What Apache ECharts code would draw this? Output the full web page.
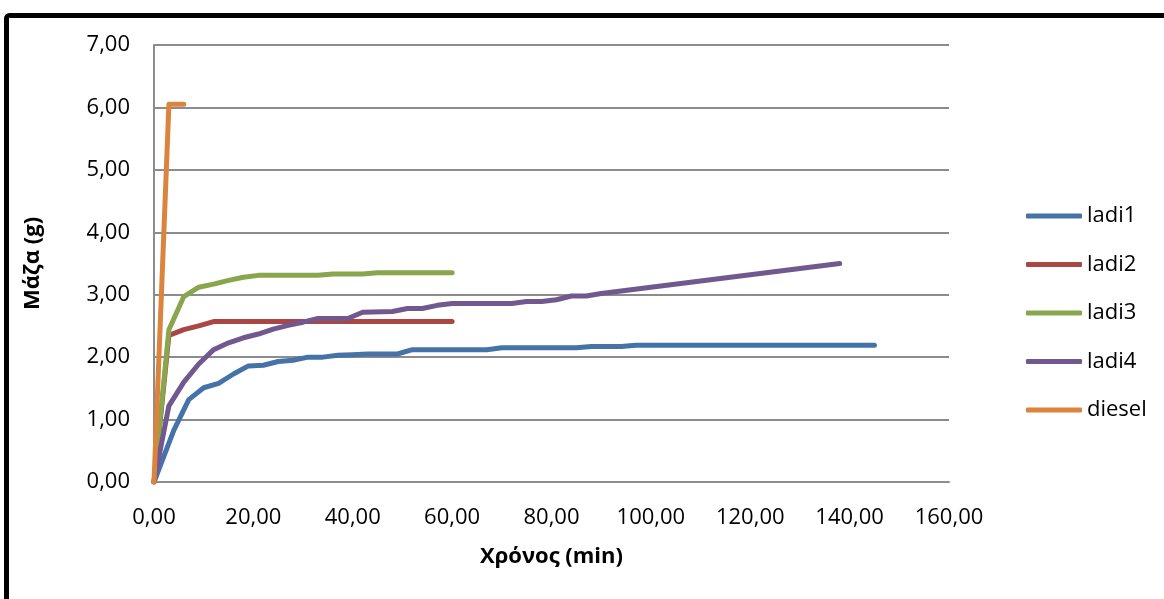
<!DOCTYPE html>
<html>
<head>
<meta charset="utf-8">
<script src="https://cdn.jsdelivr.net/npm/echarts@6/dist/echarts.min.js"></script>
<style>
  html, body { margin: 0; padding: 0; background: #fff; }
  #chart { width: 1164px; height: 599px; }
</style>
</head>
<body>
<div id="chart"></div>
<script>
// Mass gained over time (min) for each sample
const seriesNames = ['ladi1', 'ladi2', 'ladi3', 'ladi4', 'diesel'];

const ladi1Time = [0, 4, 7, 10, 13, 16, 19, 22, 25, 28, 31, 34, 37, 40, 43, 49, 52, 67, 70, 85, 88, 94, 97, 145];
const ladi1Mass = [0, 0.83, 1.32, 1.51, 1.58, 1.73, 1.86, 1.87, 1.93, 1.95, 2.00, 2.00, 2.03, 2.04, 2.05, 2.05, 2.12, 2.12, 2.15, 2.15, 2.17, 2.17, 2.19, 2.19];

const ladi2Time = [0, 3, 6, 9, 12, 60];
const ladi2Mass = [0, 2.35, 2.44, 2.50, 2.57, 2.57];

const ladi3Time = [0, 3, 6, 9, 12, 15, 18, 21, 33, 36, 42, 45, 60];
const ladi3Mass = [0, 2.44, 2.97, 3.12, 3.17, 3.23, 3.28, 3.31, 3.31, 3.33, 3.33, 3.35, 3.35];

const ladi4Time = [0, 3, 6, 9, 12, 15, 18, 21, 24, 27, 30, 33, 39, 42, 48, 51, 54, 57, 60, 72, 75, 78, 81, 84, 87, 90, 138];
const ladi4Mass = [0, 1.22, 1.60, 1.89, 2.12, 2.23, 2.31, 2.37, 2.45, 2.51, 2.56, 2.62, 2.62, 2.72, 2.73, 2.78, 2.78, 2.83, 2.86, 2.86, 2.89, 2.89, 2.92, 2.98, 2.98, 3.02, 3.50];

const dieselTime = [0, 3, 6];
const dieselMass = [0, 6.05, 6.05];

const xTicks = { min: 0, max: 160, step: 20 };
const yTicks = { min: 0, max: 7, step: 1 };

const colors = ['#4572A7', '#AA4643', '#89A54E', '#71588F', '#DB843D'];

const zip = (t, m) => t.map((v, i) => [v, m[i]]);
const seriesData = [
  zip(ladi1Time, ladi1Mass),
  zip(ladi2Time, ladi2Mass),
  zip(ladi3Time, ladi3Mass),
  zip(ladi4Time, ladi4Mass),
  zip(dieselTime, dieselMass)
];

const fmt = v => v.toFixed(2).replace('.', ',');
const FONT = '"Open Sans", "Noto Sans", sans-serif';
const axisGray = '#8c8c8c';

const chart = echarts.init(document.getElementById('chart'), null, { renderer: 'canvas' });
chart.setOption({
  animation: false,
  color: colors,
  textStyle: { fontFamily: FONT },
  graphic: [{
    type: 'rect',
    shape: { x: 6.5, y: 15.5, width: 1300, height: 700, r: 3 },
    style: { fill: 'none', stroke: '#000', lineWidth: 5 },
    silent: true
  }],
  grid: { left: 154, top: 45, width: 795, height: 437, containLabel: false },
  legend: {
    orient: 'vertical',
    left: 1021,
    top: 199,
    icon: 'roundRect',
    itemWidth: 56,
    itemHeight: 5,
    itemGap: 24.5,
    textStyle: { fontFamily: FONT, fontSize: 22, color: '#000', lineHeight: 24 },
    data: seriesNames
  },
  xAxis: {
    type: 'value',
    min: xTicks.min, max: xTicks.max, interval: xTicks.step,
    name: 'Χρόνος (min)',
    nameLocation: 'middle',
    nameGap: 64,
    nameTextStyle: { fontFamily: FONT, fontSize: 22, fontWeight: 'bold', color: '#000' },
    axisLine: { show: true, lineStyle: { color: axisGray, width: 2 } },
    axisTick: { show: false },
    splitLine: { show: false },
    axisLabel: { formatter: fmt, fontFamily: FONT, fontSize: 22, color: '#000', margin: 25 }
  },
  yAxis: {
    type: 'value',
    min: yTicks.min, max: yTicks.max, interval: yTicks.step,
    name: 'Μάζα (g)',
    nameLocation: 'middle',
    nameGap: 110,
    nameRotate: 90,
    nameTextStyle: { fontFamily: FONT, fontSize: 22, fontWeight: 'bold', color: '#000' },
    axisLine: { show: true, lineStyle: { color: axisGray, width: 2 } },
    axisTick: { show: false },
    splitLine: { show: true, lineStyle: { color: axisGray, width: 2 } },
    axisLabel: { formatter: fmt, fontFamily: FONT, fontSize: 22, color: '#000', margin: 24 }
  },
  series: seriesNames.map((name, i) => ({
    name,
    type: 'line',
    data: seriesData[i],
    showSymbol: false,
    symbol: 'none',
    lineStyle: { width: 5, cap: 'round', join: 'round' },
    emphasis: { disabled: true }
  }))
});
</script>
</body>
</html>
